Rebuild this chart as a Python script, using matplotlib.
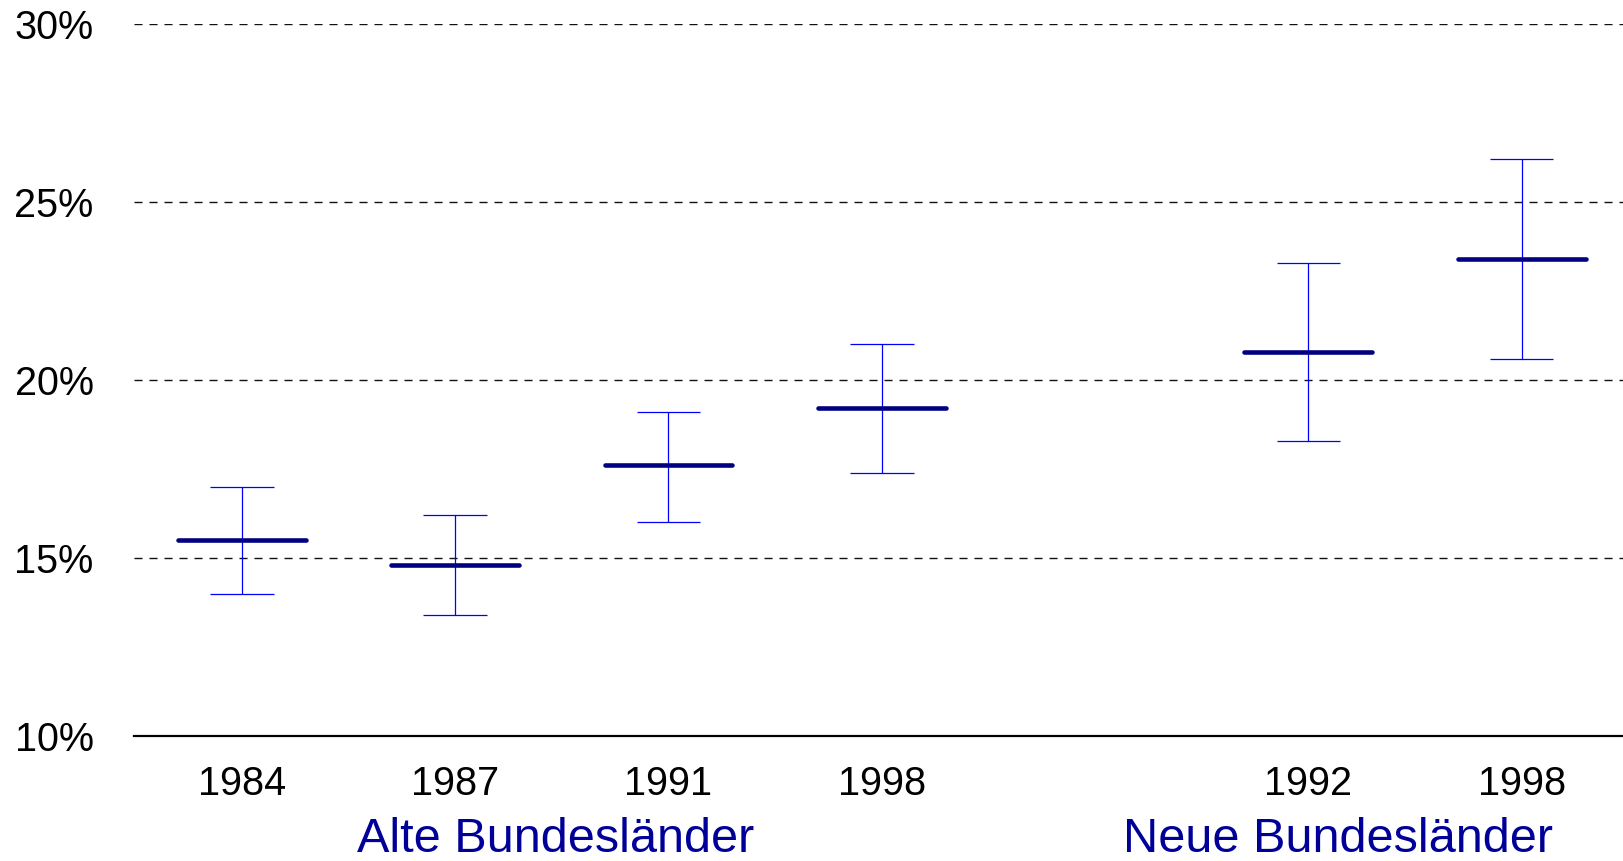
import matplotlib.pyplot as plt
import numpy as np

plt.rcParams['font.family'] = ['Liberation Sans', 'DejaVu Sans']

years = ['1984', '1987', '1991', '1998', '1992', '1998']
positions = [0, 1, 2, 3, 5, 6]
means = [15.5, 14.8, 17.6, 19.2, 20.8, 23.4]
lower = [14.0, 13.4, 16.0, 17.4, 18.3, 20.6]
upper = [17.0, 16.2, 19.1, 21.0, 23.3, 26.2]

groups = ['Alte Bundesländer', 'Neue Bundesländer']
group_x = [1.47, 5.14]

fig = plt.figure(figsize=(16.24, 8.61), dpi=100)
ax = fig.add_axes([134 / 1624, 125 / 861, 1 - 134 / 1624, 712 / 861])

x = np.array(positions)
m = np.array(means)

# grid lines
for g in [15, 20, 25, 30]:
    ax.axhline(g, color='#111111', lw=1.0, linestyle=(0, (5.8, 5.0)), zorder=1)

# whiskers
ax.vlines(x, lower, upper, color='#0000ff', lw=0.9, zorder=2)
ax.hlines(lower, x - 0.149, x + 0.149, color='#0000ff', lw=0.9, zorder=2)
ax.hlines(upper, x - 0.149, x + 0.149, color='#0000ff', lw=0.9, zorder=2)

# means
ax.hlines(m, x - 0.3, x + 0.3, color='#000080', lw=3.3, capstyle='round', zorder=3)

ax.set_xlim(-0.506, 6.48)
ax.set_ylim(10, 30)

ax.set_yticks([10, 15, 20, 25, 30])
ax.set_yticklabels(['10%', '15%', '20%', '25%', '30%'])
ax.set_xticks(positions)
ax.set_xticklabels(years)
ax.tick_params(axis='both', length=0)
ax.tick_params(axis='y', pad=29, labelsize=28.5)
ax.tick_params(axis='x', pad=21, labelsize=28.5)

for s in ['top', 'right', 'left']:
    ax.spines[s].set_visible(False)
ax.spines['bottom'].set_linewidth(1.6)
ax.spines['bottom'].set_color('black')

for gx, label in zip(group_x, groups):
    ax.text(gx, -0.146, label, transform=ax.get_xaxis_transform(),
            ha='center', va='center', fontsize=35, color='#000099', clip_on=False)

fig.savefig('out.png', dpi=100)
